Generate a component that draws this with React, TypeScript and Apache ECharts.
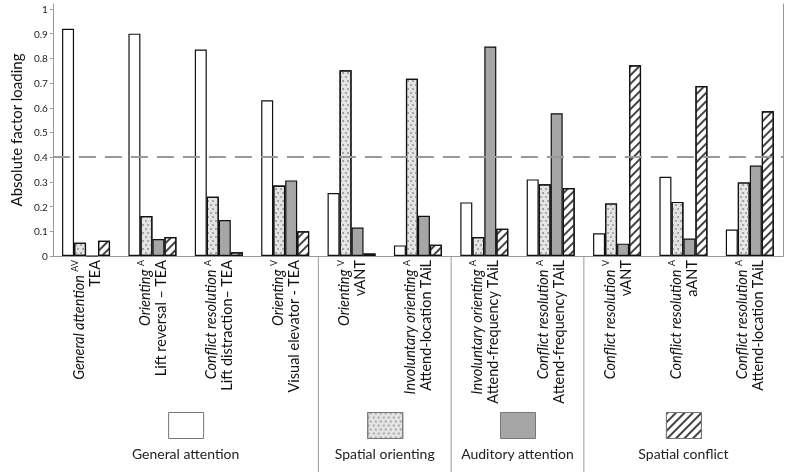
import React, { useEffect, useRef } from "react";
import * as echarts from "echarts";

const measureNames = [
  "General attention",
  "Orienting",
  "Conflict resolution",
  "Orienting",
  "Orienting",
  "Involuntary orienting",
  "Involuntary orienting",
  "Conflict resolution",
  "Conflict resolution",
  "Conflict resolution",
  "Conflict resolution",
];
const modality = ["AV", "A", "A", "V", "V", "A", "A", "A", "V", "A", "A"];
const tasks = [
  "TEA",
  "Lift reversal – TEA",
  "Lift distraction– TEA",
  "Visual elevator - TEA",
  "vANT",
  "Attend-location TAiL",
  "Attend-frequency TAiL",
  "Attend-frequency TAiL",
  "vANT",
  "aANT",
  "Attend-location TAiL",
];
const categories = tasks.map((t, i) => `${measureNames[i]} ${modality[i]} | ${t}`);

const seriesNames = ["General attention", "Spatial orienting", "Auditory attention", "Spatial conflict"];
const generalAttention = [0.92, 0.9, 0.836, 0.63, 0.255, 0.043, 0.217, 0.31, 0.092, 0.321, 0.107];
const spatialOrienting = [0.054, 0.162, 0.24, 0.285, 0.752, 0.717, 0.077, 0.29, 0.213, 0.219, 0.298];
const auditoryAttention = [0.0, 0.069, 0.146, 0.306, 0.115, 0.163, 0.848, 0.578, 0.05, 0.071, 0.366];
const spatialConflict = [0.062, 0.077, 0.015, 0.1, 0.01, 0.046, 0.11, 0.275, 0.772, 0.688, 0.586];
const threshold = 0.4;
const yTicks = { min: 0, max: 1.02, interval: 0.1 };
const groupBoundaries = [0, 4, 6, 8, 11]; // category index boundaries of the 4 groups

const FONT = "Lato, 'Open Sans', sans-serif";

export default function App() {
  const ref = useRef<HTMLDivElement>(null);
  useEffect(() => {
    if (!ref.current) return;
    const chart = echarts.init(ref.current, undefined, { renderer: "svg" });
    const border = { borderColor: "#111", borderWidth: 1.2 };
    const decals: any[] = [
      null,
      {
        symbol: "circle",
        symbolSize: 0.9,
        color: "#8f8f8f",
        dashArrayX: [[1.2, 2.6], [0, 1.9, 1.2, 0.7]],
        dashArrayY: [1.2, 1.3],
      },
      null,
      {
        symbol: "rect",
        symbolSize: 1,
        color: "#444",
        dashArrayX: [1, 0],
        dashArrayY: [1.3, 3.2],
        rotation: -Math.PI / 4,
      },
    ];
    const fills = ["#ffffff", "#e4e4e4", "#a6a6a6", "#ffffff"];
    const dataSets = [generalAttention, spatialOrienting, auditoryAttention, spatialConflict];

    const series: any[] = dataSets.map((d, i) => ({
      name: seriesNames[i],
      type: "bar",
      data: d,
      barWidth: 12,
      barGap: "0%",
      xAxisIndex: 0,
      yAxisIndex: 0,
      itemStyle: { color: fills[i], ...border, ...(decals[i] ? { decal: decals[i] } : {}) },
      ...(i === 0
        ? {
            markLine: {
              silent: true,
              symbol: ["none", "none"],
              label: { show: false },
              lineStyle: { color: "#999", width: 2, type: [17, 9] },
              data: [{ yAxis: threshold }],
            },
          }
        : {}),
    }));

    const option: any = {
      animation: false,
      grid: { left: 52, right: 4, top: 4, bottom: 219 },
      xAxis: [
        {
          type: "category",
          data: categories,
          axisLine: { lineStyle: { color: "#999" } },
          axisTick: { inside: true, length: 7, lineStyle: { color: "#999" } },
          axisLabel: {
            rotate: 90,
            margin: 4,
            interval: 0,
            formatter: (_v: string, i: number) =>
              `{i|${measureNames[i]} }{s|${modality[i]}}\n{n|${tasks[i]}}`,
            rich: {
              i: { fontFamily: FONT, fontStyle: "italic", fontSize: 14.5, color: "#111", lineHeight: 16 },
              s: { fontFamily: FONT, fontSize: 9, color: "#111", lineHeight: 10, verticalAlign: "top" },
              n: { fontFamily: FONT, fontSize: 14.5, color: "#111", lineHeight: 16 },
            },
          },
        },
        {
          type: "category",
          position: "top",
          data: categories,
          axisLine: { lineStyle: { color: "#999" } },
          axisTick: { inside: true, length: 6, lineStyle: { color: "#999" } },
          axisLabel: { show: false },
        },
      ],
      yAxis: [
        {
          type: "value",
          min: yTicks.min,
          max: yTicks.max,
          interval: yTicks.interval,
          name: "Absolute factor loading",
          nameLocation: "middle",
          nameRotate: 90,
          nameGap: 28,
          nameTextStyle: { fontFamily: FONT, fontSize: 15, color: "#111" },
          axisLine: { show: true, lineStyle: { color: "#999" } },
          axisTick: { show: true, length: 3, lineStyle: { color: "#999" } },
          splitLine: { show: false },
          axisLabel: { fontFamily: FONT, fontSize: 10, color: "#222", margin: 5, showMaxLabel: false },
        },
        {
          type: "value",
          position: "right",
          min: yTicks.min,
          max: yTicks.max,
          axisLine: { show: true, lineStyle: { color: "#999" } },
          axisTick: { show: false },
          axisLabel: { show: false },
          splitLine: { show: false },
        },
      ],
      series,
    };
    chart.setOption(option);

    const center = (k: number) => chart.convertToPixel({ xAxisIndex: 0 }, k) as number;
    const half = (center(1) - center(0)) / 2;
    const boundary = (k: number) => (k < categories.length ? center(k) - half : center(k - 1) + half);
    const axisY = chart.convertToPixel({ yAxisIndex: 0 }, 0) as number;
    const bx = groupBoundaries.map(boundary);
    const gCenters = [0, 1, 2, 3].map((g) => (bx[g] + bx[g + 1]) / 2);

    const legends = seriesNames.map((name, g) => ({
      data: [name],
      icon: "rect",
      selectedMode: false,
      left: gCenters[g] - 17.5,
      top: axisY + 156,
      padding: 0,
      itemWidth: 35,
      itemHeight: 26,
      itemGap: 0,
      formatter: () => "",
      itemStyle: { borderColor: "#777", borderWidth: 1 },
    }));

    const graphics: any[] = [];
    bx.slice(1, 4).forEach((x) => {
      graphics.push({
        type: "line",
        shape: { x1: x, y1: axisY, x2: x, y2: axisY + 216 },
        style: { stroke: "#999", lineWidth: 1 },
      });
    });
    seriesNames.forEach((name, g) => {
      graphics.push({
        type: "text",
        x: gCenters[g],
        y: axisY + 197,
        style: {
          text: name,
          fontFamily: FONT,
          fontSize: 14,
          fill: "#222",
          align: "center",
          verticalAlign: "middle",
        },
      });
    });

    chart.setOption({ legend: legends, graphic: graphics });
    return () => chart.dispose();
  }, []);
  return <div ref={ref} style={{ position: "fixed", left: 0, top: 0, width: 787, height: 475 }} />;
}
